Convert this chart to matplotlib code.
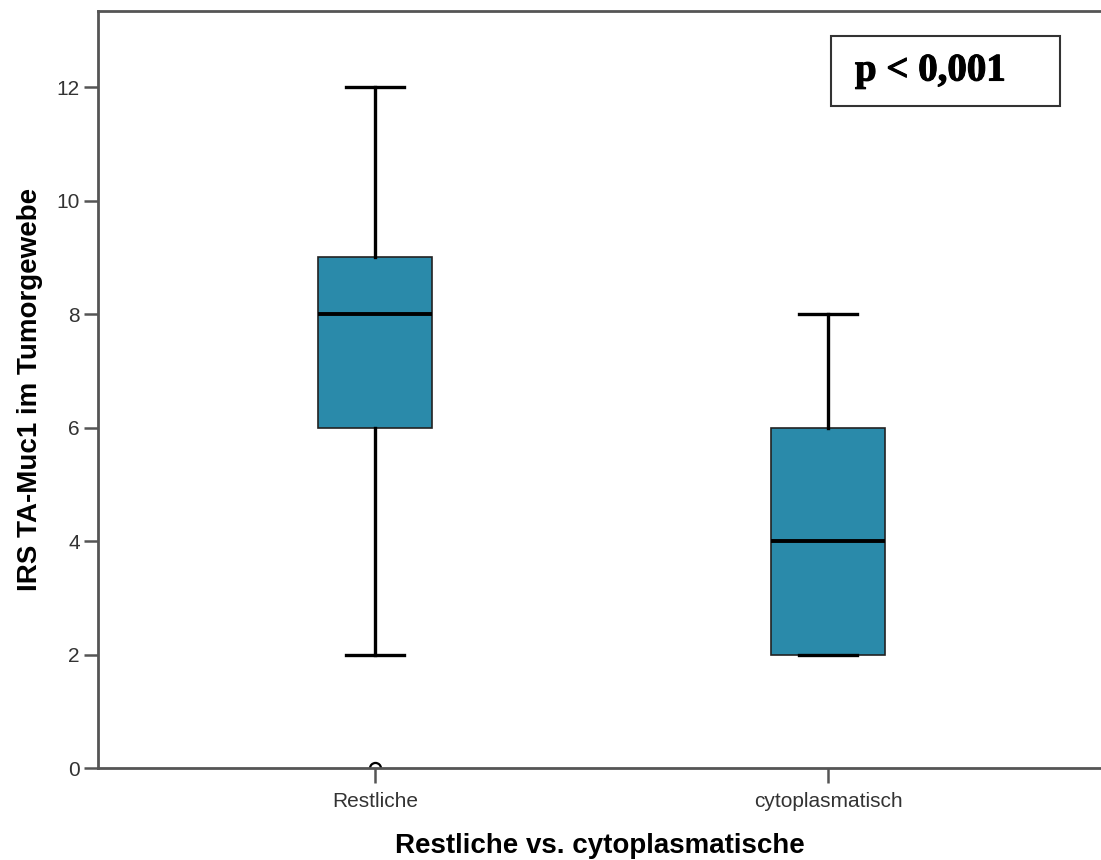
import matplotlib
matplotlib.use("Agg")
import matplotlib.pyplot as plt
import matplotlib.patheffects as pe

# box statistics
groups = ["Restliche", "cytoplasmatisch"]
whisker_low = [2, 2]
q1 = [6, 2]
median = [8, 4]
q3 = [9, 6]
whisker_high = [12, 8]
outliers = [[0], []]

y_ticks = [0, 2, 4, 6, 8, 10, 12]
box_color = "#2a8aaa"
spine_color = "#555555"

fig = plt.figure(figsize=(11.01, 8.6), dpi=100)
left, bottom = 98 / 1101, (860 - 768) / 860
ax = fig.add_axes([left, bottom, 1 - left, (768 - 11) / 860])

stats = []
for i, name in enumerate(groups):
    stats.append(dict(label=name, whislo=whisker_low[i], q1=q1[i], med=median[i],
                      q3=q3[i], whishi=whisker_high[i], fliers=outliers[i]))

ax.bxp(stats, positions=[1, 2], widths=0.252, patch_artist=True,
       boxprops=dict(facecolor=box_color, edgecolor="#222222", linewidth=1.2),
       medianprops=dict(color="black", linewidth=2.8),
       whiskerprops=dict(color="black", linewidth=2.4),
       capprops=dict(color="black", linewidth=2.4),
       capwidths=0.128,
       flierprops=dict(marker="o", markerfacecolor="white", markeredgecolor="black",
                       markersize=8, markeredgewidth=1.6))

ax.set_xlim(0.388, 2.603)
ax.set_ylim(0, 13.34)
ax.set_yticks(y_ticks)
ax.set_xticks([1, 2])
ax.set_xticklabels(groups)

for s in ["left", "bottom", "top"]:
    ax.spines[s].set_color(spine_color)
    ax.spines[s].set_linewidth(2)
ax.spines["right"].set_visible(False)

ax.tick_params(axis="both", direction="out", length=10, width=1.8, color=spine_color,
               labelsize=15, labelcolor="#333333", pad=3)
ax.tick_params(axis="x", length=11, pad=6)
for lab in ax.get_xticklabels() + ax.get_yticklabels():
    lab.set_family("Liberation Sans")

ax.set_ylabel("IRS TA-Muc1 im Tumorgewebe", fontsize=20, fontweight="bold",
              family="Liberation Sans", labelpad=10)
ax.set_xlabel("Restliche vs. cytoplasmatische", fontsize=20, fontweight="bold",
              family="Liberation Sans", labelpad=16)

# p-value box (light stroke thickens the serif glyphs to a bold look)
fig.text(855 / 1101, 1 - 71 / 860, "p < 0,001", fontsize=28, fontweight="bold",
         family="Liberation Serif", va="center", ha="left",
         path_effects=[pe.withStroke(linewidth=0.8, foreground="black")])
fig.patches.append(plt.Rectangle((831 / 1101, 1 - 106 / 860), 229 / 1101, 70 / 860,
                                 transform=fig.transFigure, fill=False,
                                 edgecolor="#333333", linewidth=1.5))

fig.savefig("out.png", dpi=100)
